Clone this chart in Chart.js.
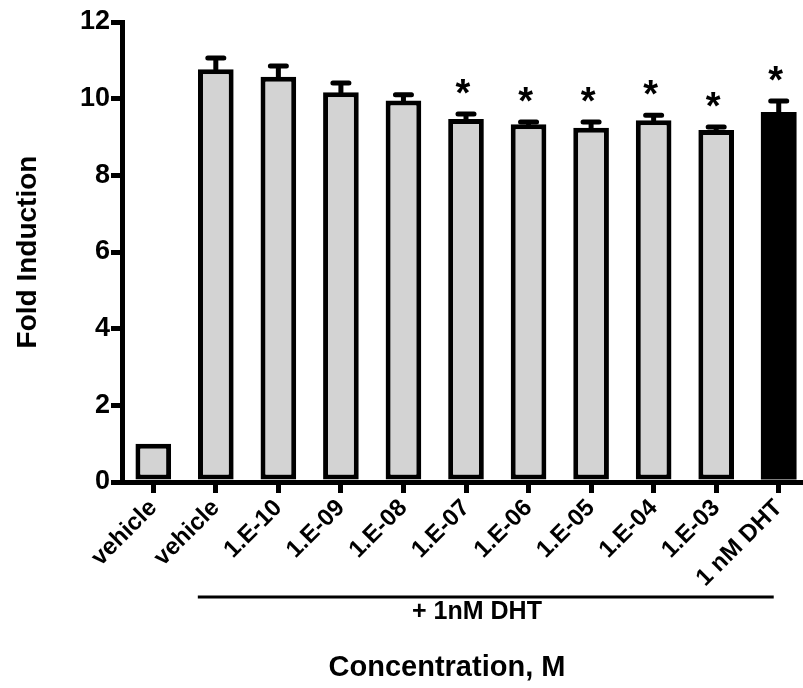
<!DOCTYPE html>
<html>
<head>
<meta charset="utf-8">
<script src="https://cdn.jsdelivr.net/npm/chart.js@4.4.0/dist/chart.umd.min.js"></script>
<style>
  body { margin: 0; background: #fff; overflow: hidden; }
  canvas { display: block; }
</style>
</head>
<body>
<canvas id="myChart" width="810" height="688"></canvas>
<script>
// data
var categories = ['vehicle', 'vehicle', '1.E-10', '1.E-09', '1.E-08', '1.E-07', '1.E-06', '1.E-05', '1.E-04', '1.E-03', '1 nM DHT'];
var foldMeans = [1.0, 10.77, 10.57, 10.17, 9.95, 9.47, 9.33, 9.24, 9.44, 9.18, 9.65];
var foldErrors = [0, 0.29, 0.28, 0.24, 0.15, 0.13, 0.06, 0.15, 0.13, 0.08, 0.29];
var significant = [false, false, false, false, false, true, true, true, true, true, true];
var yTicks = [0, 2, 4, 6, 8, 10, 12];

window.onload = function () {

    var ctx = document.getElementById('myChart').getContext('2d');
    var fontFamily = '"Liberation Sans", Arial, sans-serif';
    var last = categories.length - 1;

    // error bars, stars, bracket and x title
    var extras = {
        id: 'extras',
        afterDatasetsDraw: function (chart) {
            var c = chart.ctx;
            var x = chart.scales.x;
            var y = chart.scales.y;
            c.save();
            c.strokeStyle = '#000';
            c.fillStyle = '#000';
            c.lineCap = 'round';
            for (var i = 0; i < foldMeans.length; i++) {
                var cx = x.getPixelForValue(i);
                var top = y.getPixelForValue(foldMeans[i] + foldErrors[i]);
                if (foldErrors[i] > 0) {
                    c.lineWidth = 5;
                    c.beginPath();
                    c.moveTo(cx, y.getPixelForValue(foldMeans[i]));
                    c.lineTo(cx, top);
                    c.moveTo(cx - 8, top);
                    c.lineTo(cx + 8, top);
                    c.stroke();
                }
                if (significant[i]) {
                    c.font = 'bold 38px ' + fontFamily;
                    c.textAlign = 'center';
                    c.textBaseline = 'alphabetic';
                    c.fillText('*', cx - 3, top - 8);
                }
            }
            // "+ 1nM DHT" bracket
            var x0 = x.getPixelForValue(1) - 18;
            var x1 = x.getPixelForValue(last) - 5;
            c.lineWidth = 3;
            c.lineCap = 'butt';
            c.beginPath();
            c.moveTo(x0, 597);
            c.lineTo(x1, 597);
            c.stroke();
            c.font = 'bold 25px ' + fontFamily;
            c.textAlign = 'center';
            c.textBaseline = 'middle';
            c.fillText('+ 1nM DHT', 477, 612);
            c.font = 'bold 29px ' + fontFamily;
            c.fillText('Concentration, M', 447, 668);
            c.restore();
        }
    };

    var myChart = new Chart(ctx, {
        type: 'bar',
        data: {
            labels: categories,
            datasets: [{
                label: 'Fold Induction',
                data: foldMeans,
                backgroundColor: categories.map(function (c, i) { return i === last ? '#000000' : '#d3d3d3'; }),
                borderColor: '#000000',
                borderWidth: categories.map(function (c, i) { return i === last ? 0 : 5; }),
                borderSkipped: false,
                barPercentage: 0.57,
                categoryPercentage: 1.0
            }]
        },
        options: {
            responsive: false,
            animation: false,
            layout: { padding: { top: 22, right: 0, left: 0, bottom: 0 } },
            plugins: {
                legend: { display: false },
                tooltip: { enabled: false }
            },
            scales: {
                x: {
                    grid: {
                        display: true,
                        drawOnChartArea: false,
                        drawTicks: true,
                        offset: false,
                        tickLength: 11,
                        lineWidth: 5,
                        color: '#000'
                    },
                    border: { display: true, color: '#000', width: 5 },
                    ticks: {
                        color: '#000',
                        font: { family: fontFamily, size: 24, weight: 'bold' },
                        minRotation: 45,
                        maxRotation: 45,
                        autoSkip: false,
                        padding: 1
                    },
                    afterFit: function (scale) { scale.height = 206; }
                },
                y: {
                    min: 0,
                    max: 12,
                    afterBuildTicks: function (scale) {
                        scale.ticks = yTicks.map(function (v) { return { value: v }; });
                    },
                    grid: {
                        display: true,
                        drawOnChartArea: false,
                        drawTicks: true,
                        tickLength: 11,
                        lineWidth: 5,
                        color: '#000'
                    },
                    border: { display: true, color: '#000', width: 5 },
                    ticks: {
                        color: '#000',
                        font: { family: fontFamily, size: 27, weight: 'bold' },
                        padding: 1
                    },
                    title: {
                        display: true,
                        text: 'Fold Induction',
                        color: '#000',
                        font: { family: fontFamily, size: 28, weight: 'bold' },
                        padding: { top: 11, bottom: 0 }
                    },
                    afterFit: function (scale) { scale.width = 122; }
                }
            }
        },
        plugins: [extras]
    });
};
</script>
</body>
</html>
